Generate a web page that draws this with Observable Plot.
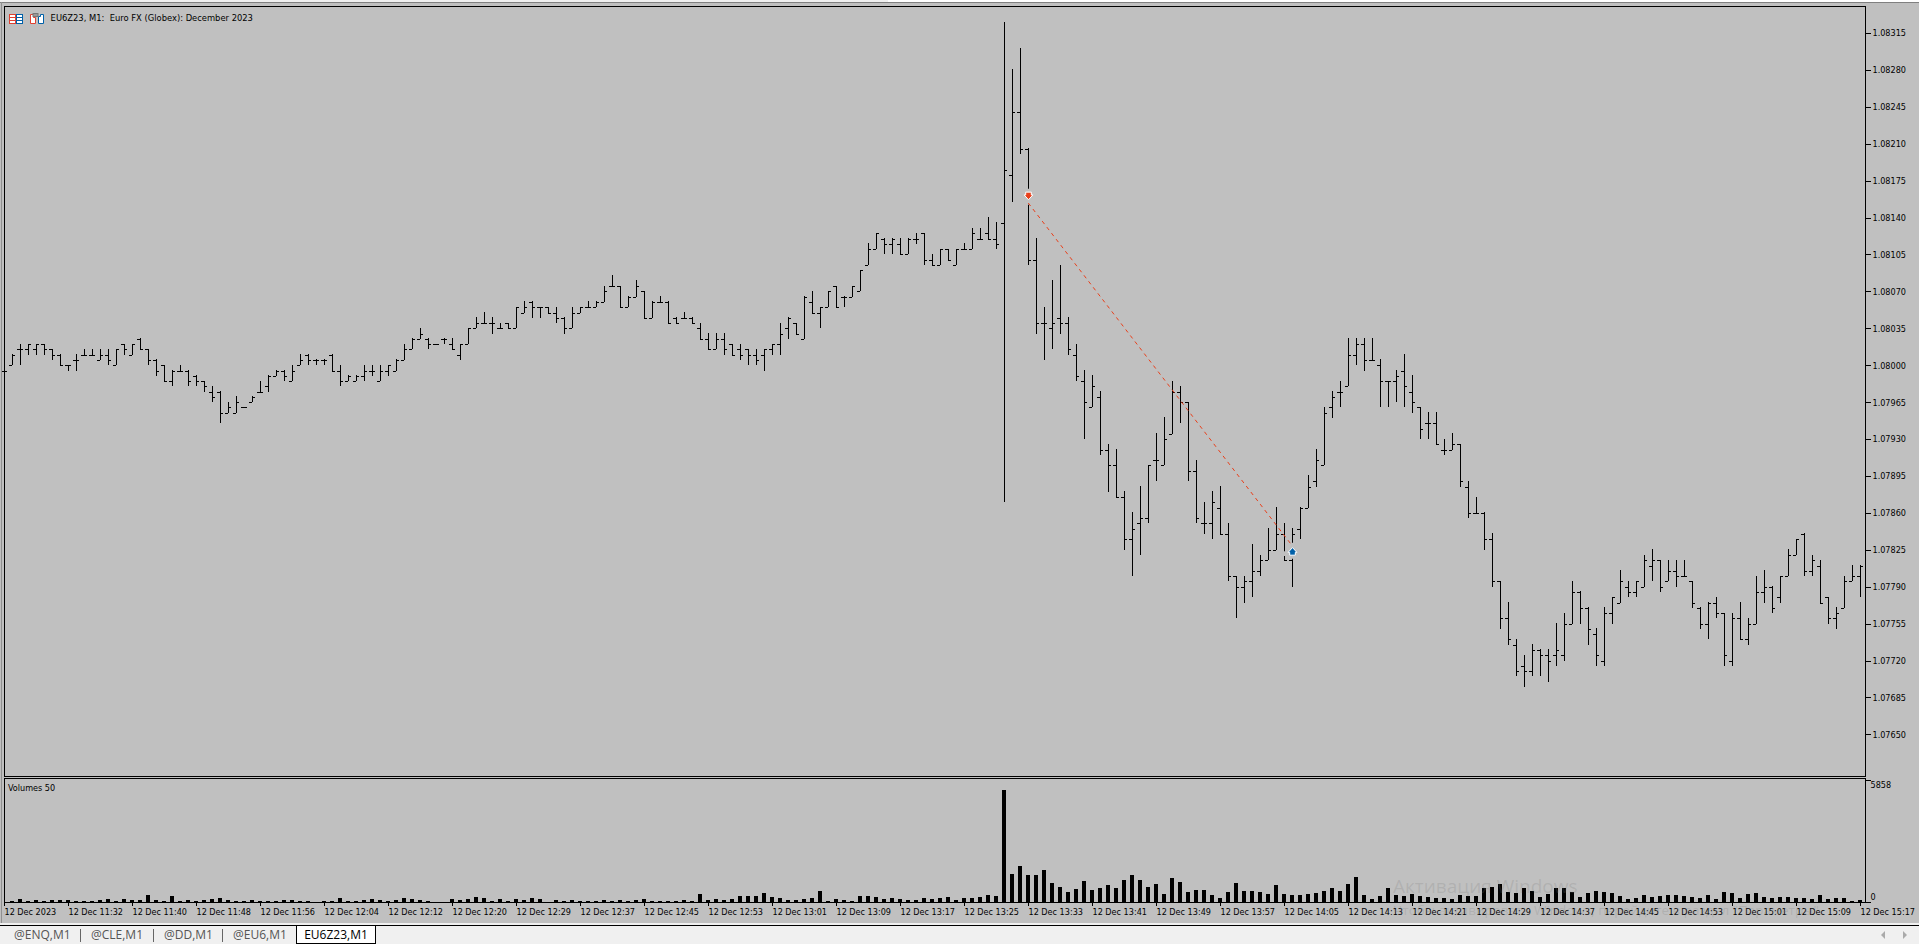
<!DOCTYPE html>
<html><head><meta charset="utf-8">
<script src="https://cdn.jsdelivr.net/npm/d3@7"></script>
<script src="https://cdn.jsdelivr.net/npm/@observablehq/plot@0.6"></script>
<style>
html,body{margin:0;padding:0;overflow:hidden;background:#c0c0c0}
#app{position:absolute;left:0;top:0;width:1919px;height:944px;overflow:hidden;background:#c0c0c0;font-family:"DejaVu Sans Condensed","DejaVu Sans",sans-serif}
#app svg{position:absolute;left:0}
.abs{position:absolute;white-space:pre}
.tab{position:absolute;top:926px;font:12px/18px "Open Sans",sans-serif;color:#555}
.sep{position:absolute;top:929px;width:1px;height:13px;background:#666}
</style></head><body><div id="app"></div>
<script>
// Prices are read as points above 1.07000 (1 point = 0.00001)
const priceBase = 107000;
const opens = [995,1000,1015,1015,1015,1020,1015,1010,1000,1005,
1010,1010,1005,1010,1000,1020,1010,1025,1015,1005,
1000,985,995,995,990,985,975,975,955,955,
960,965,975,980,990,995,985,1000,1010,1005,
1005,1010,995,985,985,990,995,985,995,995,
1005,1015,1025,1025,1020,1025,1020,1010,1020,1035,
1040,1040,1035,1040,1035,1050,1060,1055,1055,1050,
1045,1035,1050,1055,1055,1060,1075,1075,1055,1065,
1070,1045,1060,1060,1045,1045,1045,1035,1025,1015,
1025,1020,1015,1015,1010,1010,1015,1020,1035,1040,
1025,1060,1050,1055,1075,1065,1065,1070,1095,1110,
1120,1115,1115,1105,1120,1125,1100,1095,1110,1095,
1110,1110,1120,1125,1120,1135,1180,1240,1205,1100,
1040,1035,1045,1040,1010,985,960,970,920,905,
875,835,850,855,910,905,935,975,965,900,
850,850,865,840,800,790,795,805,815,825,
840,815,845,865,890,905,960,975,980,1010,
1020,1005,1000,985,985,995,975,960,945,945,
920,920,925,885,860,860,835,795,760,735,
715,710,730,725,725,725,755,785,770,745,
720,765,775,790,785,790,810,815,795,805,
800,795,770,755,775,765,720,760,740,755,
785,790,780,800,820,840,805,810,780,760,
770,795,800];
const highs = [995,1010,1020,1020,1020,1020,1015,1010,1000,1010,
1015,1015,1015,1015,1015,1020,1020,1025,1015,1005,
1000,995,1000,995,990,985,980,975,965,970,
960,970,985,990,995,995,1000,1010,1010,1005,
1005,1010,1000,990,990,1000,1000,1000,1000,1005,
1020,1025,1035,1025,1020,1025,1025,1020,1035,1045,
1050,1045,1040,1040,1055,1060,1060,1055,1055,1055,
1045,1055,1055,1060,1060,1075,1085,1075,1065,1080,
1070,1060,1065,1060,1045,1050,1045,1040,1030,1030,
1030,1020,1020,1015,1015,1015,1020,1040,1045,1040,
1065,1070,1055,1070,1075,1065,1075,1090,1115,1125,
1120,1120,1120,1120,1125,1125,1105,1110,1110,1110,
1115,1130,1130,1140,1135,1325,1280,1300,1205,1120,
1055,1080,1095,1045,1020,995,990,975,925,920,
880,860,885,905,935,950,985,980,965,910,
870,880,885,850,800,800,830,820,845,865,
850,845,865,895,920,960,975,985,1025,1025,
1025,1025,1005,985,995,1010,990,960,955,955,
930,935,925,890,875,860,840,795,775,740,
725,735,730,730,755,765,795,785,770,750,
770,780,805,795,795,820,825,815,815,815,
815,795,770,775,780,765,765,775,760,800,
805,790,800,825,835,840,820,815,780,770,
800,810,810];
const lows = [995,1000,1000,1010,1010,1010,1005,1000,995,995,
1010,1010,1005,1000,1000,1010,1010,1015,1000,990,
985,980,995,980,980,975,965,945,955,955,
960,965,975,975,990,985,985,1000,1000,1000,
1000,995,980,985,985,985,990,985,990,995,
1005,1015,1025,1015,1020,1020,1015,1005,1020,1035,
1040,1030,1035,1035,1035,1050,1045,1045,1050,1040,
1030,1035,1050,1055,1055,1060,1075,1055,1055,1065,
1045,1045,1060,1040,1040,1045,1040,1025,1015,1015,
1010,1010,1005,1000,1000,995,1010,1010,1025,1030,
1025,1050,1035,1055,1055,1055,1065,1070,1095,1110,
1105,1105,1105,1105,1115,1095,1095,1095,1100,1095,
1110,1110,1120,1120,1110,870,1155,1200,1095,1030,
1005,1015,1030,1010,985,930,960,915,880,875,
825,800,820,850,890,905,935,945,890,850,
840,835,840,795,760,775,780,800,815,825,
815,790,835,865,885,905,950,960,980,1000,
995,1005,960,960,965,960,955,930,930,925,
915,920,885,855,860,825,790,750,735,705,
695,705,705,700,715,720,755,755,735,715,
715,755,775,780,780,790,795,785,795,790,
800,770,750,740,760,715,715,740,735,755,
775,765,775,800,820,800,800,775,755,750,
770,795,780];
const closes = [995,1010,1015,1020,1020,1015,1010,1000,1000,1005,
1010,1010,1010,1005,1015,1015,1020,1015,1005,995,
985,995,995,985,985,980,970,955,960,965,
960,970,975,990,995,990,995,1005,1005,1005,
1005,995,985,990,990,995,995,995,1000,1005,
1015,1025,1030,1020,1020,1025,1015,1020,1035,1040,
1040,1040,1035,1035,1055,1055,1055,1055,1050,1045,
1035,1050,1055,1055,1060,1070,1075,1055,1065,1075,
1045,1060,1060,1040,1040,1045,1040,1025,1015,1025,
1015,1010,1010,1010,1005,1015,1020,1030,1045,1030,
1065,1050,1055,1070,1055,1065,1075,1090,1110,1125,
1115,1120,1105,1120,1120,1100,1095,1110,1100,1110,
1110,1125,1120,1120,1115,1185,1240,1205,1100,1040,
1040,1040,1040,1015,990,965,980,920,905,875,
835,845,855,905,910,930,975,965,900,855,
850,870,840,800,790,795,805,815,825,840,
815,840,865,885,910,955,970,975,1010,1020,
1005,1005,985,985,990,980,965,940,945,925,
920,925,890,860,860,835,795,760,740,710,
710,730,725,720,730,755,785,770,750,725,
765,780,795,785,795,815,815,790,805,800,
800,775,755,775,765,725,760,740,755,785,
790,770,800,820,835,805,815,775,760,765,
795,800,810];
const volumes = [0,48,144,48,96,48,96,96,96,48,
48,48,96,144,48,144,96,96,336,96,
48,288,48,96,48,96,144,192,96,48,
48,96,48,48,48,96,96,48,48,0,
48,48,192,48,48,96,144,96,48,96,
192,144,96,48,0,0,144,96,144,240,
192,48,144,48,144,96,192,144,0,96,
48,96,48,48,48,96,48,96,48,96,
144,48,48,48,48,96,48,384,96,144,
96,144,288,288,288,432,240,192,96,96,
144,192,528,48,144,96,48,288,288,240,
144,192,144,96,96,192,144,192,240,96,
192,192,240,336,288,5376,1344,1728,1296,1296,
1536,912,720,480,624,1008,576,672,816,672,
1056,1296,1056,720,864,384,1152,960,480,576,
576,336,192,480,912,528,528,480,384,816,
384,336,336,384,432,528,672,528,864,1200,
336,144,288,672,336,288,384,288,240,192,
192,144,336,288,288,672,720,864,480,432,
672,528,240,384,672,672,480,240,432,528,
480,432,288,144,192,336,240,288,336,336,
288,240,192,336,144,480,432,192,384,432,
240,192,240,240,192,192,144,336,144,192,
192,48,96];
const priceTicks = [1.08315,1.0828,1.08245,1.0821,1.08175,1.0814,1.08105,1.0807,1.08035,1.08,1.07965,1.0793,1.07895,1.0786,1.07825,1.0779,1.07755,1.0772,1.07685,1.0765];
const volumeTicks = [0,5858];
const timeLabels = ["12 Dec 2023","12 Dec 11:32","12 Dec 11:40","12 Dec 11:48","12 Dec 11:56","12 Dec 12:04","12 Dec 12:12","12 Dec 12:20","12 Dec 12:29","12 Dec 12:37","12 Dec 12:45","12 Dec 12:53","12 Dec 13:01","12 Dec 13:09","12 Dec 13:17","12 Dec 13:25","12 Dec 13:33","12 Dec 13:41","12 Dec 13:49","12 Dec 13:57","12 Dec 14:05","12 Dec 14:13","12 Dec 14:21","12 Dec 14:29","12 Dec 14:37","12 Dec 14:45","12 Dec 14:53","12 Dec 15:01","12 Dec 15:09","12 Dec 15:17"];
const tradeBars = [128,161];
const tradeLinePrices = [1.08154,1.07829];
const tradeMarkPrices = [1.08161,1.07824];
const tabs = [["@ENQ,M1",14],["@CLE,M1",91],["@DD,M1",164],["@EU6,M1",233]];

const toPrice = v => (priceBase + v) / 1e5;
const bars = opens.map((o,i)=>({i,open:toPrice(o),high:toPrice(highs[i]),low:toPrice(lows[i]),close:toPrice(closes[i]),vol:volumes[i]}));
const tradeLine = tradeBars.map((i,k)=>({i,p:tradeLinePrices[k]}));
const entry = [{i:tradeBars[0],p:tradeMarkPrices[0]}];
const exit = [{i:tradeBars[1],p:tradeMarkPrices[1]}];

const arrowDown = {draw(c){c.moveTo(-2.8,-3.8);c.lineTo(2.8,-3.8);c.lineTo(2.8,-1);c.lineTo(4.4,-1);c.lineTo(0,3.8);c.lineTo(-4.4,-1);c.lineTo(-2.8,-1);c.closePath();}};
const arrowUp = {draw(c){c.moveTo(-2.8,3.8);c.lineTo(2.8,3.8);c.lineTo(2.8,1);c.lineTo(4.4,1);c.lineTo(0,-3.8);c.lineTo(-4.4,1);c.lineTo(-2.8,1);c.closePath();}};
const font = {background:"transparent",color:"#000",fontFamily:'"DejaVu Sans Condensed","DejaVu Sans",sans-serif',fontSize:"9px",overflow:"visible"};

const app = document.getElementById("app");
const crisp = {shapeRendering:"crispEdges",stroke:"#000",strokeWidth:1};

const pricePlot = Plot.plot({
  width:1919,height:778,marginTop:6,marginLeft:4,marginRight:54,marginBottom:2,
  style:font,
  x:{domain:[0,232],range:[4,1860],axis:null},
  y:{domain:[1.08315,1.0765],range:[33,734.4]},
  marks:[
    Plot.frame({stroke:"#000",strokeWidth:1}),
    Plot.ruleX(bars,{x:"i",y1:"low",y2:d=>d.high+0.000005,...crisp}),
    Plot.ruleY(bars,{y:"open",x1:d=>d.i-0.375,x2:"i",...crisp}),
    Plot.ruleY(bars,{y:"close",x1:"i",x2:d=>d.i+0.375,...crisp}),
    Plot.dot(entry,{x:"i",y:"p",symbol:arrowDown,r:4,fill:"#c0c0c0",stroke:"#c0c0c0",strokeWidth:7}),
    Plot.dot(exit,{x:"i",y:"p",symbol:arrowUp,r:4,fill:"#c0c0c0",stroke:"#c0c0c0",strokeWidth:7}),
    Plot.line(tradeLine,{x:"i",y:"p",stroke:"#e8401c",strokeWidth:1,strokeDasharray:"3,4.6"}),
    Plot.dot(entry,{x:"i",y:"p",symbol:arrowDown,r:4,fill:"#e8401c",stroke:"#fff",strokeWidth:1}),
    Plot.dot(exit,{x:"i",y:"p",symbol:arrowUp,r:4,fill:"#0060a8",stroke:"#fff",strokeWidth:1}),
    Plot.axisY(priceTicks,{anchor:"right",label:null,tickSize:5,tickPadding:2,tickFormat:d=>d.toFixed(5),shapeRendering:"crispEdges"})
  ]
});
pricePlot.style.top="0px";
app.appendChild(pricePlot);

const volumePlot = Plot.plot({
  width:1919,height:147,marginTop:1,marginLeft:4,marginRight:54,marginBottom:22,
  style:font,
  x:{domain:[0,232],range:[4,1860]},
  y:{domain:[0,5858],range:[125,2.96]},
  marks:[
    Plot.rect(bars,{x1:d=>d.i-0.25,x2:d=>d.i+0.25,y1:0,y2:"vol",fill:"#000",dx:-0.5,dy:-0.5,shapeRendering:"crispEdges"}),
    Plot.frame({stroke:"#000",strokeWidth:1}),
    Plot.axisX(timeLabels.map((_,k)=>k*8),{anchor:"bottom",label:null,tickSize:4,tickPadding:2,textAnchor:"start",tickFormat:(d)=>timeLabels[d/8],shapeRendering:"crispEdges"}),
    Plot.axisY(volumeTicks,{anchor:"right",label:null,tickSize:5,text:null,shapeRendering:"crispEdges"}),
    Plot.axisY([volumeTicks[1]],{anchor:"right",label:null,tickSize:0,tickPadding:5,dy:5,tickFormat:d=>String(d)}),
    Plot.axisY([volumeTicks[0]],{anchor:"right",label:null,tickSize:0,tickPadding:5,dy:-5,tickFormat:d=>String(d)})
  ]
});
volumePlot.style.top="777px";
app.appendChild(volumePlot);

function add(cls,css,text){const e=document.createElement("div");e.className=cls;e.style.cssText=css;if(text!=null)e.textContent=text;app.appendChild(e);return e;}
// window chrome
add("abs","left:0;top:0;width:888px;height:2px;background:#f0f0f0");
add("abs","left:888px;top:0;width:1031px;height:2px;background:#fff");
add("abs","left:0;top:2px;width:1919px;height:1px;background:#808080");
add("abs","left:1px;top:2px;width:1px;height:921px;background:#909090");
add("abs","left:0;top:923px;width:1919px;height:21px;background:#f0f0f0");
add("abs","left:0;top:925px;width:1919px;height:1px;background:#000");
// header
add("abs","left:50.6px;top:11px;font-size:9.3px;line-height:13px;color:#000","EU6Z23, M1:  Euro FX (Globex): December 2023");
const ic=add("abs","left:9px;top:11px;width:37px;height:13px");
ic.innerHTML='<svg width="37" height="13" style="position:static"><g fill="none" stroke-width="1"><rect x="0.5" y="1.5" width="6" height="9" stroke="#e04030" fill="#fff"/><rect x="7.5" y="1.5" width="6" height="9" stroke="#0060a8" fill="#fff"/><path d="M1 4.5h5M1 7.5h5" stroke="#e04030"/><path d="M8 4.5h5M8 7.5h5" stroke="#0060a8"/><path d="M21.5 1.5v9h5v-6h-2v-3z" stroke="#e04030" fill="#fff"/><path d="M29.5 3.5v7h5v-9h-3v2z" stroke="#0060a8" fill="#fff"/><rect x="24" y="0.5" width="5" height="3" fill="#999" stroke="#777"/></g></svg>';
add("abs","left:8px;top:782px;font-size:9px;line-height:12px;color:#000","Volumes 50");
// activation watermark
add("abs",'left:1393px;top:871px;font:19px/30px "Open Sans",sans-serif;color:rgba(120,120,120,.22)',"Активация Windows");
add("abs",'left:1393px;top:901px;font:13.5px/19px "Open Sans",sans-serif;color:rgba(120,120,120,.22)','Чтобы активировать Windows, перейдите в раздел "Параметры".');
// tab strip
tabs.forEach(([t,x])=>add("tab",`left:${x}px`,t));
[80,153,222].forEach(x=>add("sep",`left:${x}px`));
add("abs",'left:296px;top:925px;width:78px;height:17px;background:#fff;border:1px solid #000;font:12px/18px "Open Sans",sans-serif;color:#000;text-align:center',"EU6Z23,M1");
add("abs","left:1881px;top:931px;width:0;height:0;border-top:4px solid transparent;border-bottom:4px solid transparent;border-right:4px solid #aaa");
add("abs","left:1903px;top:931px;width:0;height:0;border-top:4px solid transparent;border-bottom:4px solid transparent;border-left:4px solid #aaa");
</script></body></html>
